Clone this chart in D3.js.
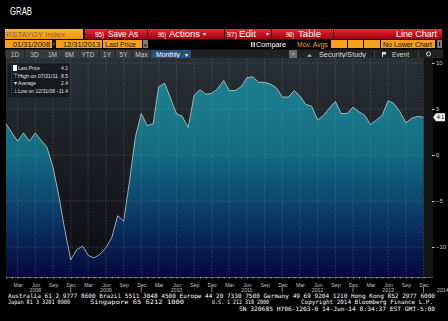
<!DOCTYPE html>
<html>
<head>
<meta charset="utf-8">
<script src="https://cdn.jsdelivr.net/npm/d3@7"></script>
<style>
  html, body { margin: 0; padding: 0; background: #000; }
  svg { display: block; }
</style>
</head>
<body>
<div id="main"></div>
<script>
/*********************************************************
 * Data (RSTAYOY Index, monthly, Jan 2008 - Dec 2013)
 *********************************************************/
const firstMonth = '2008-01';
const lastMonth = '2013-12';
const values = [
  3.4, 2.4, 1.5, 2.4, 1.5, 2.4, 1.6, 0.8, -1.4, -4.5, -8.2, -11.4,
  -10.3, -9.9, -10.9, -11.2, -10.8, -10.1, -9.0, -6.6, -7.2, -2.9, 2.0, 4.5,
  3.2, 3.4, 7.4, 7.8, 6.2, 4.5, 4.2, 3.0, 6.5, 7.1, 6.6, 6.7,
  7.2, 8.1, 7.0, 7.0, 7.4, 8.4, 8.5, 7.9, 7.9, 7.7, 7.3, 6.3,
  6.3, 7.0, 6.4, 5.5, 5.3, 3.8, 4.3, 5.1, 5.8, 4.5, 4.5, 5.2,
  4.7, 4.3, 3.3, 3.8, 4.3, 5.9, 5.6, 4.7, 3.5, 4.0, 4.2, 4.1
];
const yTicks = [10, 5, 0, -5, -10];
const yearLabels = ['2008', '2009', '2010', '2011', '2012', '2013'];
const legendLabels = ['Last Price', 'High on 07/31/11', 'Average', 'Low on 12/31/08'];
const legendValues = ['4.1', '8.5', '2.4', '-11.4'];
const lastValueLabel = '4.1';

const footerLines = [
  'Australia 61 2 9777 8600 Brazil 5511 3048 4500 Europe 44 20 7330 7500 Germany 49 69 9204 1210 Hong Kong 852 2977 6000',
  'Japan 81 3 3201 8900',
  'Singapore 65 6212 1000',
  'U.S. 1 212 318 2000',
  'Copyright 2014 Bloomberg Finance L.P.',
  'SN 320685 H706-1203-0 14-Jun-14  8:34:37 EST  GMT-5:00'
];

/*********************************************************
 * Layout
 *********************************************************/
const W = 448, H = 321;
const plot = { l: 6, r: 423.5, t: 58, b: 277 };
const SANS = 'Liberation Sans, Arial, sans-serif';
const MONO = 'DejaVu Sans Mono, monospace';

const svg = d3.select('#main').append('svg')
  .attr('width', W).attr('height', H)
  .style('background', '#000');

const defs = svg.append('defs');

function vGrad(id, y1, y2, stops) {
  const g = defs.append('linearGradient').attr('id', id)
    .attr('gradientUnits', 'userSpaceOnUse')
    .attr('x1', 0).attr('x2', 0).attr('y1', y1).attr('y2', y2);
  stops.forEach(s => g.append('stop').attr('offset', s[0]).attr('stop-color', s[1]));
}
vGrad('bgGrad', plot.t, plot.b, [[0, '#283036'], [0.45, '#1b1e22'], [1, '#0b0b12']]);
vGrad('fillGrad', plot.t, plot.b, [
  [0, '#1e8494'], [0.3, '#177687'], [0.45, '#126a82'], [0.6, '#0d4f73'],
  [0.75, '#0a3463'], [0.9, '#07184a'], [1, '#05093c']
]);
vGrad('redGrad', 29, 39, [[0, '#f02a38'], [0.5, '#c81020'], [1, '#9a0814']]);
vGrad('orangeGrad', 29, 39, [[0, '#ffb030'], [1, '#ee9410']]);

/*********************************************************
 * Header + toolbars
 *********************************************************/
svg.append('text').attr('x', 10).attr('y', 14.5)
  .attr('font-family', SANS).attr('font-size', 10).attr('fill', '#fff')
  .attr('textLength', 22).attr('lengthAdjust', 'spacingAndGlyphs')
  .text('GRAB');

function box(x0, x1, y0, y1, fill) {
  return svg.append('rect').attr('x', x0).attr('y', y0)
    .attr('width', x1 - x0).attr('height', y1 - y0).attr('fill', fill);
}
function label(x, y, txt, size, fill, len, anchor) {
  const t = svg.append('text').attr('x', x).attr('y', y)
    .attr('font-family', SANS).attr('font-size', size).attr('fill', fill)
    .attr('text-anchor', anchor || 'start').text(txt);
  if (len) t.attr('textLength', len).attr('lengthAdjust', 'spacingAndGlyphs');
  return t;
}

// row 1
box(5, 83, 29, 39, 'url(#orangeGrad)');
label(6, 37, 'RSTAYOY Index', 8, '#8a6a3a', 59);
[[85, 147], [148, 224], [225, 271], [272, 333], [334, 442]].forEach(b =>
  box(b[0], b[1], 29, 39, 'url(#redGrad)'));
label(95, 37, '95)', 7, '#fff', 9);
label(108, 37, 'Save As', 8.5, '#fff', 30);
label(158, 37, '96)', 7, '#fff', 8);
label(169, 37, 'Actions', 8.5, '#fff', 31);
label(203, 36, '▾', 6, '#fff');
label(227, 37, '97)', 7, '#fff', 10);
label(239, 37, 'Edit', 8.5, '#fff', 17);
label(266, 36, '▾', 6, '#fff');
label(286, 37, '98)', 7, '#fff', 8);
label(298, 37, 'Table', 8.5, '#fff', 23);
label(437, 37, 'Line Chart', 8.5, '#fff', 41, 'end');

// row 2
box(5, 52, 40, 48, '#f5a11e');
box(52, 55, 40, 48, '#111');
box(53, 54.5, 43.5, 44.5, '#f5a11e');
box(56, 102, 40, 48, '#f5a11e');
box(103, 142, 40, 48, '#f5a11e');
box(143, 148, 40, 48, '#7a7a7a');
label(145.5, 46.5, '▾', 5, '#000', null, 'middle');
label(13, 46.5, '01/31/2008', 7, '#1a1000', 37);
label(63, 46.5, '12/31/2013', 7, '#1a1000', 37);
label(105, 46.5, 'Last Price', 7, '#1a1000', 31);
[251, 252.6, 254.2].forEach(x => box(x, x + 0.8, 42, 47, '#fff'));
label(256, 46.5, 'Compare', 6.5, '#fff', 30);
label(297, 46.5, 'Mov. Avgs', 6.5, '#f5a11e', 31);
[[331, 347], [348, 363], [364, 380]].forEach(b => box(b[0], b[1], 40, 48, '#f5a11e'));
box(381, 435, 40, 48, '#f5a11e');
label(383, 46.5, 'No Lower Chart', 7, '#1a1000', 49);
box(437, 442, 40, 48, '#7a7a7a');
box(439, 440, 42, 46, '#111');

// row 3
box(5, 443, 49.5, 58, '#222');
const periodButtons = [[6, 24, '1D'], [26, 43, '3D'], [44, 61, '1M'], [62, 77, '6M'],
  [78, 98, 'YTD'], [100, 114, '1Y'], [116, 131, '5Y'], [133, 150, 'Max']];
periodButtons.forEach(b => {
  box(b[0], b[1], 50, 58, '#383838').attr('stroke', '#4a4a4a').attr('stroke-width', 0.5);
  label((b[0] + b[1]) / 2, 56.5, b[2], 6.5, '#c8c8c8', null, 'middle');
});
box(151, 191, 50, 58, '#23527e');
label(156, 56.5, 'Monthly', 6.5, '#fff', 24);
label(186, 56.5, '▾', 5.5, '#fff', null, 'middle');
box(289, 297, 50, 58, '#6a6a6a');
label(293, 56.3, '>', 6, '#ddd', null, 'middle');
label(307, 56.5, '⩕', 6, '#ddd');
label(319, 56.5, 'Security/Study', 6.5, '#ddd', 47);
box(374, 374.6, 50, 58, '#555');
box(382, 383, 52, 57, '#ddd'); box(383, 386, 52, 54.5, '#ddd');
label(392, 56.5, 'Event', 6.5, '#ddd', 17);
box(418, 418.6, 50, 58, '#555');
svg.append('circle').attr('cx', 428.5).attr('cy', 54).attr('r', 2)
  .attr('fill', 'none').attr('stroke', '#ddd').attr('stroke-width', 1);

/*********************************************************
 * Scales
 *********************************************************/
const parseMonth = d3.timeParse('%Y-%m');
const months = d3.timeMonth.range(parseMonth(firstMonth), d3.timeMonth.offset(parseMonth(lastMonth), 1));
const data = months.map((m, i) => ({ date: m, value: values[i] }));

const x = d3.scaleTime()
  .domain([months[0], months[months.length - 1]])
  .range([plot.l, plot.r]);
const y = d3.scaleLinear()
  .domain([-13.26, 10.54])
  .range([plot.b, plot.t]);

/*********************************************************
 * Plot
 *********************************************************/
box(plot.l, plot.r, plot.t, plot.b, 'url(#bgGrad)');
box(plot.r, 433, plot.t, plot.b, '#141517');

const area = d3.area()
  .x(d => x(d.date))
  .y0(plot.b)
  .y1(d => y(d.value));
const line = d3.line()
  .x(d => x(d.date))
  .y(d => y(d.value));

svg.append('path').datum(data)
  .attr('d', area).attr('fill', 'url(#fillGrad)');

// grid
const quarterMonths = months.filter(m => m.getMonth() % 3 === 2);
const grid = svg.append('g').attr('class', 'grid')
  .attr('stroke', '#9aa4ac').attr('stroke-opacity', 0.45)
  .attr('stroke-width', 0.6).attr('stroke-dasharray', '1.5,1.5');
grid.selectAll('.vg').data(quarterMonths).enter().append('line')
  .attr('x1', d => x(d)).attr('x2', d => x(d))
  .attr('y1', plot.t).attr('y2', plot.b);
grid.selectAll('.hg').data(yTicks).enter().append('line')
  .attr('x1', plot.l).attr('x2', plot.r)
  .attr('y1', d => y(d)).attr('y2', d => y(d));

svg.append('path').datum(data)
  .attr('d', line).attr('fill', 'none')
  .attr('stroke', '#cfd6d6').attr('stroke-width', 0.75);

// right axis
const yAxis = svg.append('g')
  .attr('transform', 'translate(432,0)')
  .call(d3.axisRight(y).tickValues(yTicks).tickSize(2.5).tickPadding(1.5));
yAxis.select('.domain').remove();
yAxis.selectAll('line').attr('stroke', '#ccc');
yAxis.selectAll('text').attr('font-family', SANS).attr('font-size', 6).attr('fill', '#ccc');

// last value tag
const lastY = y(values[values.length - 1]);
svg.append('path')
  .attr('d', `M433,${lastY} L436,${lastY - 4} L445,${lastY - 4} L445,${lastY + 4} L436,${lastY + 4} Z`)
  .attr('fill', '#f2f2f2');
label(440.5, lastY + 2, lastValueLabel, 5.5, '#000', null, 'middle');

// bottom axis
svg.append('line').attr('x1', plot.l).attr('x2', 433)
  .attr('y1', plot.b + 0.5).attr('y2', plot.b + 0.5)
  .attr('stroke', '#777').attr('stroke-width', 0.8);
const xAxis = svg.append('g')
  .attr('transform', `translate(0,${plot.b})`)
  .call(d3.axisBottom(x).tickValues(months).tickSize(1.5).tickFormat(''));
xAxis.select('.domain').remove();
xAxis.selectAll('line').attr('stroke', '#aaa');

const qLabels = svg.append('g').attr('transform', `translate(0,${plot.b})`)
  .call(d3.axisBottom(x).tickValues(quarterMonths).tickSize(0).tickPadding(6)
    .tickFormat(d3.timeFormat('%b')));
qLabels.select('.domain').remove();
qLabels.selectAll('text').attr('font-family', SANS).attr('font-size', 5.2).attr('fill', '#c0c0c0');

const junMonths = months.filter(m => m.getMonth() === 5);
svg.selectAll('.yr').data(yearLabels).enter().append('text')
  .attr('x', (d, i) => x(junMonths[i]))
  .attr('y', 292)
  .attr('text-anchor', 'middle')
  .attr('font-family', SANS).attr('font-size', 5.2).attr('fill', '#c0c0c0')
  .text(d => d);
const decMonths = months.filter(m => m.getMonth() === 11);
svg.selectAll('.yt').data(decMonths).enter().append('line')
  .attr('x1', d => x(d)).attr('x2', d => x(d))
  .attr('y1', 286.5).attr('y2', 292.5)
  .attr('stroke', '#bbb').attr('stroke-width', 0.7);
label(437, 292, '2014', 5.2, '#c0c0c0');

/*********************************************************
 * Legend
 *********************************************************/
box(7, 70, 63, 98, '#15191d').attr('opacity', 0.9)
  .attr('stroke', '#3c4248').attr('stroke-width', 0.6);
svg.append('line').attr('x1', 11.5).attr('x2', 11.5).attr('y1', 66).attr('y2', 95)
  .attr('stroke', '#8a9098').attr('stroke-width', 0.5).attr('stroke-dasharray', '1,1');
const legendY = [70, 77.5, 85, 92.5];
const legendLen = [22, 40, 18, 37];
legendLabels.forEach((d, i) => {
  label(18, legendY[i], d, 5, '#e0e0e0', legendLen[i]);
  label(68, legendY[i], legendValues[i], 5, '#e0e0e0', null, 'end');
});
box(13, 17, 65, 71, '#fff');
label(15, 77.5, '⊤', 5.5, '#ddd', null, 'middle');
label(15, 85, '▾', 5.5, '#ddd', null, 'middle');
label(15, 92.5, '⊥', 5.5, '#ddd', null, 'middle');

/*********************************************************
 * Footer
 *********************************************************/
function mono(xp, yp, txt, len) {
  svg.append('text').attr('x', xp).attr('y', yp)
    .attr('font-family', MONO).attr('font-size', 6).attr('fill', '#fff')
    .attr('textLength', len).attr('lengthAdjust', 'spacingAndGlyphs')
    .text(txt);
}
mono(8, 298, footerLines[0], 427);
mono(8, 304, footerLines[1], 62);
mono(90, 304, footerLines[2], 94);
mono(212, 304, footerLines[3], 57);
mono(301, 304, footerLines[4], 132);
mono(239, 310.5, footerLines[5], 196);
</script>
</body>
</html>
